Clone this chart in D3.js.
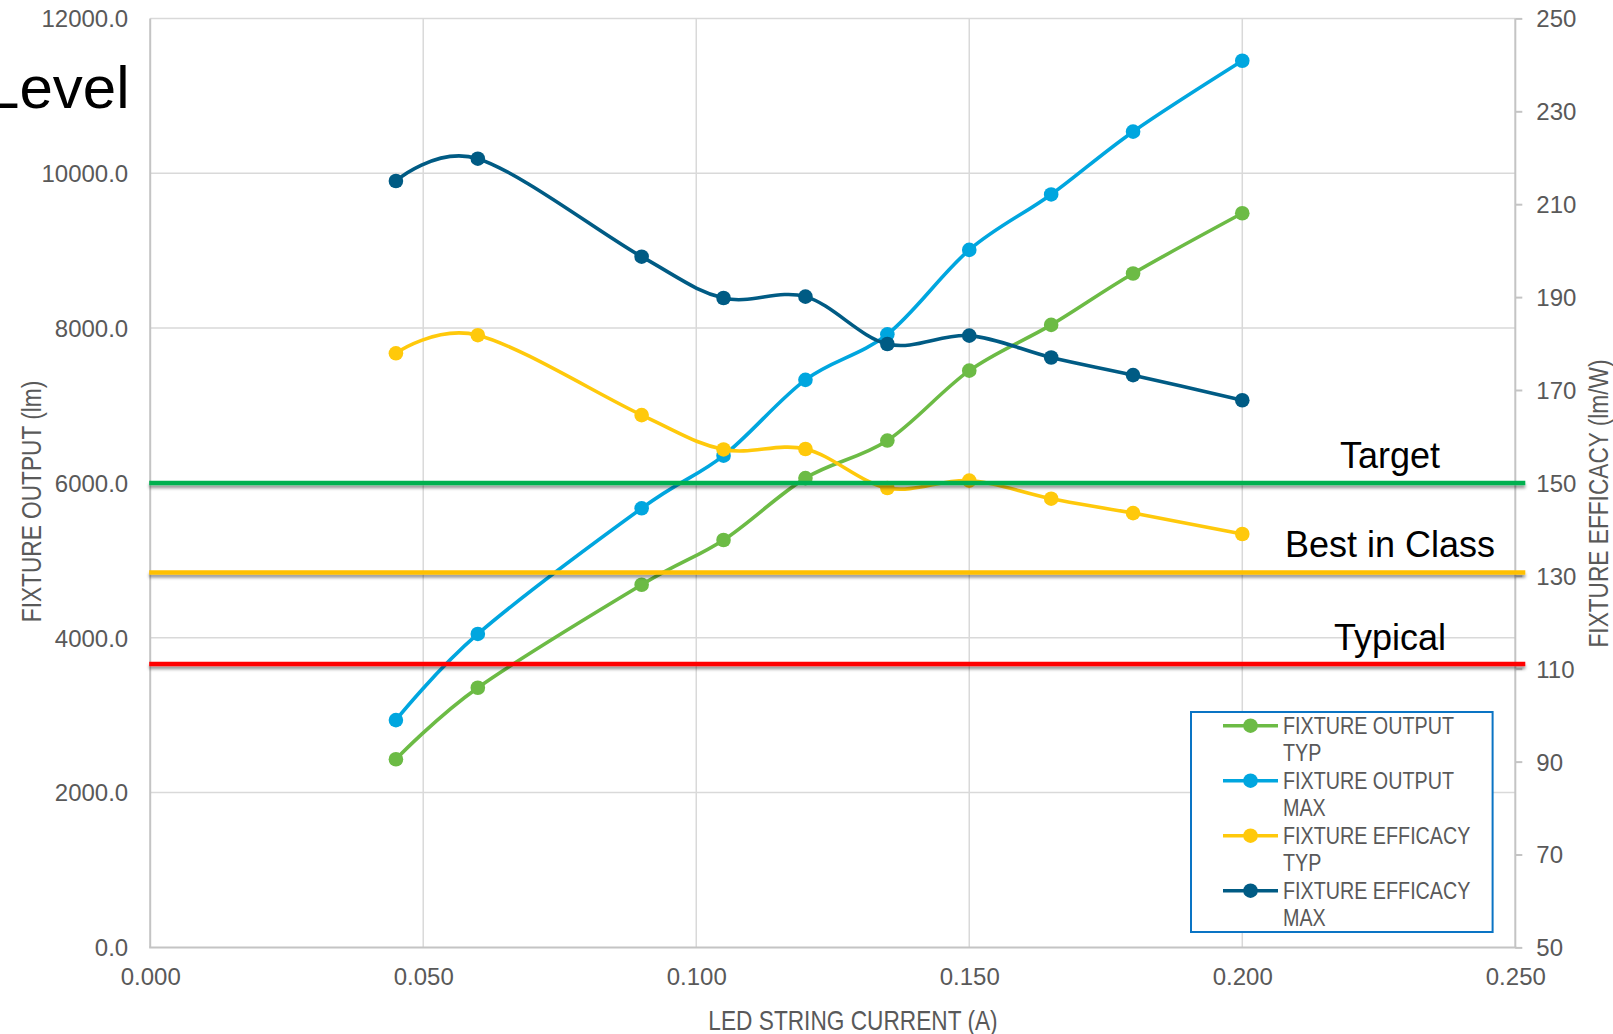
<!DOCTYPE html>
<html>
<head>
<meta charset="utf-8">
<script src="https://cdn.jsdelivr.net/npm/d3@7/dist/d3.min.js"></script>
<style>
  html, body { margin: 0; padding: 0; background: #ffffff; }
  svg { display: block; }
</style>
</head>
<body>
<svg id="chart" width="1613" height="1034"></svg>
<script>
// LED string current (A)
const currents = [0.045, 0.060, 0.090, 0.105, 0.120, 0.135, 0.150, 0.165, 0.180, 0.200];

// Fixture output (lm) – left axis
const outputTyp = [2430, 3354, 4684, 5262, 6062, 6547, 7450, 8041, 8705, 9483];
const outputMax = [2936, 4049, 5672, 6352, 7331, 7919, 9010, 9726, 10537, 11453];

// Fixture efficacy (lm/W) – right axis
const efficacyTyp = [177.9, 181.8, 164.6, 157.2, 157.3, 148.9, 150.5, 146.6, 143.5, 139.0];
const efficacyMax = [215.0, 219.8, 198.7, 189.8, 190.1, 179.9, 181.7, 177.0, 173.2, 167.8];

// Benchmark efficacy levels (lm/W)
const benchmarkNames = ["Target", "Best in Class", "Typical"];
const benchmarkValues = [150, 130.7, 111];

// Axis ticks
const xTicks = [0, 0.05, 0.10, 0.15, 0.20, 0.25];
const yLeftTicks = [0, 2000, 4000, 6000, 8000, 10000, 12000];
const yRightTicks = [50, 70, 90, 110, 130, 150, 170, 190, 210, 230, 250];

const seriesNames = ["FIXTURE OUTPUT TYP", "FIXTURE OUTPUT MAX", "FIXTURE EFFICACY TYP", "FIXTURE EFFICACY MAX"];
</script>
<script>
const svg = d3.select("#chart");
const plot = { left: 150.2, right: 1515.3, top: 18.4, bottom: 947.4 };

const x = d3.scaleLinear().domain([0, 0.25]).range([plot.left, plot.right]);
const yL = d3.scaleLinear().domain([0, 12000]).range([plot.bottom, plot.top]);
const yR = d3.scaleLinear().domain([50, 250]).range([plot.bottom, plot.top]);

const baseFont = "'Liberation Sans', Arial, sans-serif";
const textGrey = "#595959";
const gridGrey = "#d9d9d9";
const axisGrey = "#c4c4c4";
const narrow = 0.84; // horizontal squeeze for the condensed title/legend lettering

const colors = ["#6cbb45", "#00a6df", "#ffc90b", "#005b84"];
const benchColors = ["#00b050", "#ffc000", "#ff0000"];

// soft shadow under the benchmark bars
const defs = svg.append("defs");
const f = defs.append("filter").attr("id", "lineShadow")
  .attr("filterUnits", "userSpaceOnUse")
  .attr("x", 0).attr("y", 0).attr("width", 1613).attr("height", 1034);
f.append("feDropShadow").attr("dx", 0).attr("dy", 3).attr("stdDeviation", 1.8)
  .attr("flood-color", "#000").attr("flood-opacity", 0.4);

// gridlines
const grid = svg.append("g");
grid.selectAll("line.h").data(yLeftTicks.filter(d => d > 0)).join("line")
  .attr("x1", plot.left).attr("x2", plot.right)
  .attr("y1", d => yL(d)).attr("y2", d => yL(d))
  .attr("stroke", gridGrey).attr("stroke-width", 1.5);
grid.selectAll("line.v").data(xTicks.filter(d => d > 0 && d < 0.25)).join("line")
  .attr("x1", d => x(d)).attr("x2", d => x(d))
  .attr("y1", plot.top).attr("y2", plot.bottom)
  .attr("stroke", gridGrey).attr("stroke-width", 1.5);

// axis lines
svg.append("line").attr("x1", plot.left).attr("x2", plot.left).attr("y1", plot.top).attr("y2", plot.bottom)
  .attr("stroke", axisGrey).attr("stroke-width", 2);
svg.append("line").attr("x1", plot.right).attr("x2", plot.right).attr("y1", plot.top).attr("y2", plot.bottom)
  .attr("stroke", axisGrey).attr("stroke-width", 2);
svg.append("line").attr("x1", plot.left - 1).attr("x2", plot.right + 1).attr("y1", plot.bottom).attr("y2", plot.bottom)
  .attr("stroke", axisGrey).attr("stroke-width", 2);

// left axis
const gL = svg.append("g").attr("transform", `translate(${plot.left},0)`)
  .call(d3.axisLeft(yL).tickValues(yLeftTicks).tickSize(0).tickPadding(22).tickFormat(d => d.toFixed(1)));
gL.select(".domain").remove();
gL.selectAll("text").attr("font-family", baseFont).attr("font-size", 24).attr("fill", textGrey).attr("dy", "0.35em");

// right axis
const gR = svg.append("g").attr("transform", `translate(${plot.right},0)`)
  .call(d3.axisRight(yR).tickValues(yRightTicks).tickSize(7).tickPadding(14).tickFormat(d3.format("d")));
gR.select(".domain").remove();
gR.selectAll("line").attr("stroke", axisGrey).attr("stroke-width", 2);
gR.selectAll("text").attr("font-family", baseFont).attr("font-size", 24).attr("fill", textGrey).attr("dy", "0.35em");

// bottom axis
const gB = svg.append("g").attr("transform", `translate(0,${plot.bottom})`)
  .call(d3.axisBottom(x).tickValues(xTicks).tickSize(0).tickPadding(21).tickFormat(d3.format(".3f")));
gB.select(".domain").remove();
gB.selectAll("text").attr("font-family", baseFont).attr("font-size", 24).attr("fill", textGrey);

// axis titles (condensed lettering)
function title(tx, ty, rot, label) {
  svg.append("text")
    .attr("transform", `translate(${tx},${ty}) rotate(${rot}) scale(${narrow},1)`)
    .attr("text-anchor", "middle").attr("font-family", baseFont).attr("font-size", 27)
    .attr("fill", textGrey).text(label);
}
title(40.5, 501.5, -90, "FIXTURE OUTPUT (lm)");
title(1607.5, 503.5, -90, "FIXTURE EFFICACY (lm/W)");
title(853, 1029.5, 0, "LED STRING CURRENT (A)");

// data series
const series = [
  { values: outputTyp, y: yL },
  { values: outputMax, y: yL },
  { values: efficacyTyp, y: yR },
  { values: efficacyMax, y: yR }
];

const seriesG = svg.append("g");
series.forEach((s, i) => {
  const pts = currents.map((c, k) => [c, s.values[k]]);
  const line = d3.line().x(d => x(d[0])).y(d => s.y(d[1])).curve(d3.curveCardinal.tension(0));
  const g = seriesG.append("g");
  g.append("path").datum(pts).attr("d", line)
    .attr("fill", "none").attr("stroke", colors[i]).attr("stroke-width", 3.6)
    .attr("stroke-linejoin", "round");
  g.selectAll("circle").data(pts).join("circle")
    .attr("cx", d => x(d[0])).attr("cy", d => s.y(d[1])).attr("r", 7.3)
    .attr("fill", colors[i]);
});

// benchmark lines
const benchG = svg.append("g");
benchmarkValues.forEach((v, i) => {
  benchG.append("line")
    .attr("x1", plot.left - 1).attr("x2", plot.right + 10)
    .attr("y1", yR(v)).attr("y2", yR(v))
    .attr("stroke", benchColors[i]).attr("stroke-width", 4.5)
    .attr("filter", "url(#lineShadow)");
});

// benchmark labels
const benchLabelY = [468.3, 556.7, 650];
benchmarkNames.forEach((n, i) => {
  svg.append("text").attr("x", 1390).attr("y", benchLabelY[i])
    .attr("text-anchor", "middle").attr("font-family", baseFont).attr("font-size", 36)
    .attr("fill", "#000").text(n);
});

// heading fragment in the top-left corner
svg.append("text").attr("x", 129.5).attr("y", 107.7)
  .attr("text-anchor", "end").attr("font-family", baseFont).attr("font-size", 60)
  .attr("fill", "#000").text("Level");

// legend
const lg = svg.append("g");
lg.append("rect").attr("x", 1191).attr("y", 712).attr("width", 301.6).attr("height", 220)
  .attr("fill", "#fff").attr("stroke", "#0a74c4").attr("stroke-width", 2);
seriesNames.forEach((name, i) => {
  const cy = 725.7 + i * 55;
  lg.append("line").attr("x1", 1223).attr("x2", 1278).attr("y1", cy).attr("y2", cy)
    .attr("stroke", colors[i]).attr("stroke-width", 3.6);
  lg.append("circle").attr("cx", 1250.5).attr("cy", cy).attr("r", 7.3).attr("fill", colors[i]);
  const words = name.split(" ");
  const t = lg.append("text")
    .attr("transform", `translate(1283,${cy + 8.3}) scale(${narrow},1)`)
    .attr("font-family", baseFont).attr("font-size", 23.5).attr("fill", textGrey);
  t.append("tspan").attr("x", 0).attr("y", 0).text(words.slice(0, 2).join(" "));
  t.append("tspan").attr("x", 0).attr("y", 27).text(words.slice(2).join(" "));
});
</script>
</body>
</html>
